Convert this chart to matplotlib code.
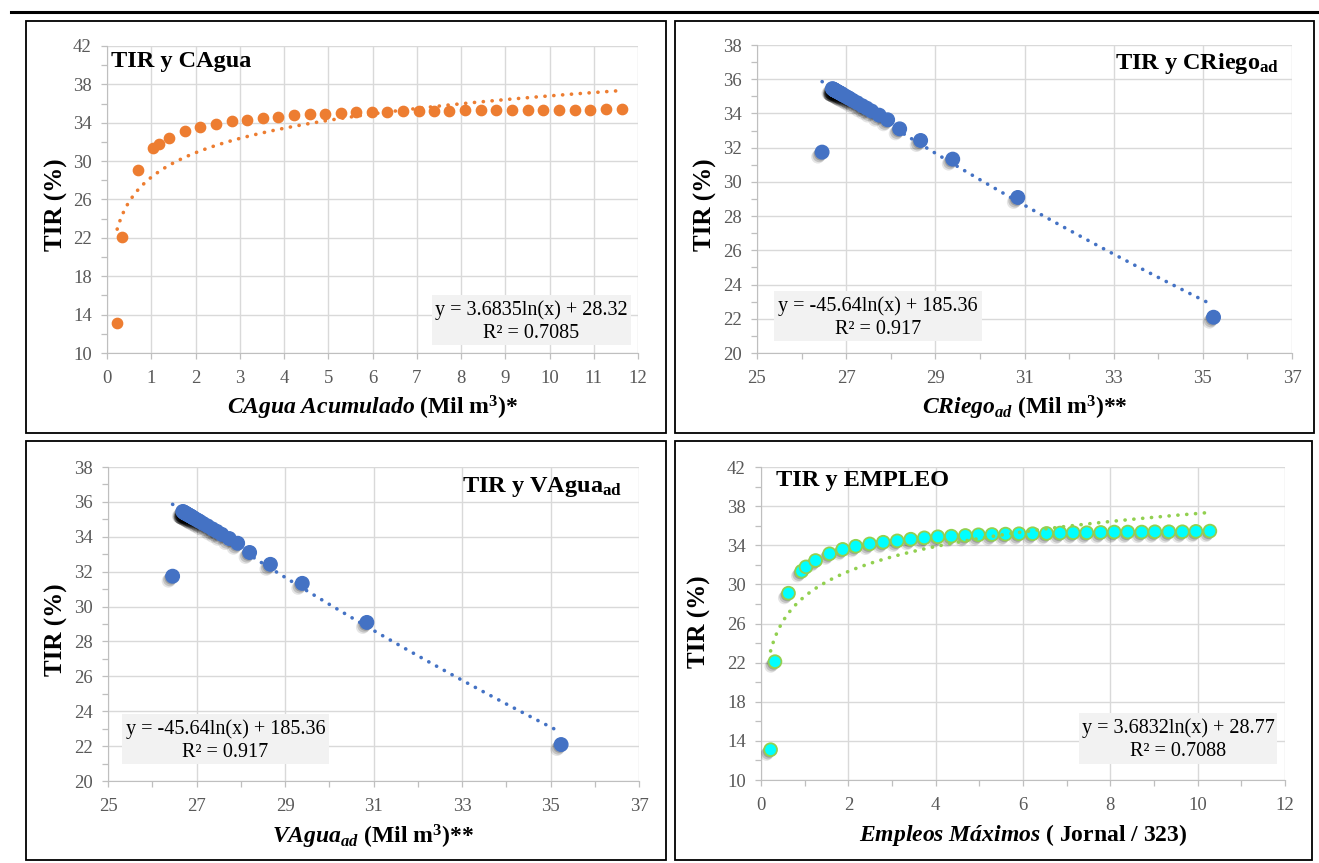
import numpy as np
import matplotlib
matplotlib.use('Agg')
import matplotlib.pyplot as plt
import matplotlib.patheffects as pe
from matplotlib.patches import Rectangle
from matplotlib.lines import Line2D

plt.rcParams['font.family'] = ['Liberation Serif', 'DejaVu Serif']
plt.rcParams['mathtext.fontset'] = 'custom'
plt.rcParams['mathtext.rm'] = 'Liberation Serif'
plt.rcParams['mathtext.it'] = 'Liberation Serif:italic'
plt.rcParams['mathtext.bf'] = 'Liberation Serif:bold'
plt.rcParams['mathtext.bfit'] = 'Liberation Serif:italic:bold'

W, H = 1319, 863

# TIR (%)
tir = [13.1, 22.1, 29.1, 31.34, 31.79, 32.44, 33.13, 33.58, 33.9, 34.14, 34.31, 34.45,
       34.62, 34.76, 34.87, 34.93, 35.0, 35.07, 35.1, 35.14, 35.18, 35.18, 35.21, 35.25,
       35.28, 35.28, 35.31, 35.35, 35.35, 35.35, 35.38, 35.38, 35.38, 35.42, 35.45]
# CAgua acumulado (Mil m3)
cagua_x = [0.23, 0.35, 0.70, 1.04, 1.17, 1.41, 1.76, 2.11, 2.46, 2.82, 3.16, 3.52,
           3.87, 4.22, 4.58, 4.93, 5.28, 5.63, 5.99, 6.33, 6.68, 7.04, 7.39, 7.74,
           8.09, 8.45, 8.80, 9.16, 9.51, 9.86, 10.22, 10.57, 10.92, 11.27, 11.63]
# Empleos maximos (Jornal / 323)
empleo_x = [0.22, 0.32, 0.63, 0.93, 1.03, 1.25, 1.57, 1.87, 2.17, 2.49, 2.80, 3.12,
            3.43, 3.74, 4.05, 4.36, 4.68, 4.98, 5.29, 5.60, 5.91, 6.22, 6.54, 6.85,
            7.15, 7.46, 7.78, 8.09, 8.40, 8.72, 9.02, 9.34, 9.65, 9.96, 10.28]
# CRiego_ad / VAgua_ad (Mil m3), points visible inside 20-38
criego_tir = [22.09, 29.09, 31.33, 31.74, 32.42, 33.1, 33.63, 33.9, 34.14, 34.31, 34.45,
              34.62, 34.76, 34.87, 34.93, 35.0, 35.07, 35.1, 35.14, 35.18, 35.18, 35.21,
              35.25, 35.28, 35.28, 35.31, 35.35, 35.35, 35.35, 35.38, 35.38, 35.38, 35.42, 35.45]
criego_x = [35.24, 30.85, 29.39, 26.46, 28.67, 28.20, 27.93, 27.74, 27.57, 27.46, 27.36,
            27.25, 27.15, 27.08, 27.04, 26.99, 26.94, 26.92, 26.90, 26.87, 26.87, 26.85,
            26.82, 26.80, 26.80, 26.78, 26.75, 26.75, 26.75, 26.73, 26.73, 26.73, 26.71, 26.69]
vagua_tir = criego_tir
vagua_x = criego_x

# log trendlines y = a ln(x) + b as printed on the charts
fit_cagua = (3.6835, 28.32)
fit_criego = (-45.64, 185.36)
fit_vagua = (-45.64, 185.36)
fit_empleo = (3.6832, 28.77)

fig = plt.figure(figsize=(W / 100, H / 100), dpi=100)


def fx(px):
    return px / W


def fy(py):
    return 1 - py / H


def panel(l, t, r, b):
    fig.patches.append(Rectangle((fx(l), fy(b)), (r - l) / W, (b - t) / H, transform=fig.transFigure,
                                 fill=False, edgecolor='black', lw=1.3, zorder=0))


def make_axes(l, t, r, b, xlim, xmaj, ylim, ymaj, ymin):
    ax = fig.add_axes([fx(l), fy(b), (r - l) / W, (b - t) / H])
    ax.set_xlim(xlim)
    ax.set_ylim(ylim)
    ax.set_xticks(np.arange(xlim[0], xlim[1] + 0.1, xmaj))
    ax.set_xticks(np.arange(xlim[0], xlim[1] + 0.1, 1), minor=True)
    ax.set_yticks(np.arange(ylim[0], ylim[1] + 0.1, ymaj))
    ax.set_yticks(np.arange(ylim[0], ylim[1] + 0.1, ymin), minor=True)
    ax.grid(which='major', color='#D9D9D9', lw=1.0)
    ax.set_axisbelow(True)
    for s in ['top', 'right']:
        ax.spines[s].set_visible(False)
    for s in ['left', 'bottom']:
        ax.spines[s].set_color('#BFBFBF')
    ax.tick_params(which='both', direction='out', length=4, width=0.9, color='#BFBFBF',
                   labelsize=13.5, labelcolor='#595959')
    ax.tick_params(axis='x', pad=8)
    ax.tick_params(axis='y', pad=7)
    return ax


def trend(ax, x, fit, color):
    xs = np.linspace(min(x), max(x), 300)
    ax.plot(xs, fit[0] * np.log(xs) + fit[1], color=color, lw=2.6,
            linestyle=(0, (0.05, 2.4)), dash_capstyle='round', zorder=4)


def eq_box(l, t, r, b, fit, r2):
    fig.patches.append(Rectangle((fx(l), fy(b)), (r - l) / W, (b - t) / H, transform=fig.transFigure,
                                 facecolor='#F2F2F2', edgecolor='none', zorder=1))
    cx = (l + r) / 2
    sign = '+' if fit[1] >= 0 else '-'
    fig.text(fx(cx), fy(t + 15), 'y = %sln(x) %s %s' % (fit[0], sign, fit[1]),
             ha='center', va='center', fontsize=14.5, color='black')
    fig.text(fx(cx), fy(t + 38), 'R² = %s' % r2, ha='center', va='center', fontsize=14.5, color='black')


# soft drop shadow (several faint offset copies), then the marker itself
shadow = [pe.SimplePatchShadow(offset=(-1.0, -1.2), shadow_rgbFace='black', alpha=0.18),
          pe.SimplePatchShadow(offset=(-2.0, -2.4), shadow_rgbFace='black', alpha=0.15),
          pe.SimplePatchShadow(offset=(-3.0, -3.4), shadow_rgbFace='black', alpha=0.1),
          pe.Normal()]

# top rule
fig.add_artist(Line2D([fx(11), 1], [fy(12), fy(12)], color='black', lw=2.2))

# panel 1: TIR y CAgua
panel(26, 21, 666, 433)
ax1 = make_axes(107, 46, 638, 353, (0, 12), 1, (10, 42), 4, 2)
ax1.scatter(cagua_x, tir, s=55, color='#ED7D31', zorder=3)
trend(ax1, cagua_x, fit_cagua, '#ED7D31')
eq_box(432, 295, 631, 345, fit_cagua, '0.7085')
fig.text(fx(111), fy(61), 'TIR y CAgua', ha='left', va='center', fontsize=17.5, fontweight='bold')
fig.text(fx(56), fy(205), 'TIR (%)', rotation=90, ha='center', va='center', fontsize=18, fontweight='bold')
fig.text(fx(373), fy(408), r'$\mathbfit{CAgua\ Acumulado}$ (Mil m$^{\mathbf{3}}$)*',
         ha='center', va='center', fontsize=17, fontweight='bold')

# panel 2: TIR y CRiego_ad
panel(675, 21, 1314, 433)
ax2 = make_axes(757, 45, 1292, 353, (25, 37), 2, (20, 38), 2, 1)
ax2.scatter(criego_x, criego_tir, s=95, color='#4472C4', zorder=3, path_effects=shadow)
trend(ax2, criego_x, fit_criego, '#4472C4')
eq_box(774, 291, 982, 341, fit_criego, '0.917')
fig.text(fx(1279), fy(64), r'TIR y CRiego$_{\mathbf{ad}}$', ha='right', va='center', fontsize=17.5, fontweight='bold')
fig.text(fx(705), fy(205), 'TIR (%)', rotation=90, ha='center', va='center', fontsize=18, fontweight='bold')
fig.text(fx(1025), fy(408), r'$\mathbfit{CRiego_{ad}}$ (Mil m$^{\mathbf{3}}$)**',
         ha='center', va='center', fontsize=17, fontweight='bold')

# panel 3: TIR y VAgua_ad
panel(26, 441, 666, 860)
ax3 = make_axes(108, 467, 639, 781, (25, 37), 2, (20, 38), 2, 1)
ax3.scatter(vagua_x, vagua_tir, s=95, color='#4472C4', zorder=3, path_effects=shadow)
trend(ax3, vagua_x, fit_vagua, '#4472C4')
eq_box(122, 714, 329, 764, fit_vagua, '0.917')
fig.text(fx(622), fy(487), r'TIR y VAgua$_{\mathbf{ad}}$', ha='right', va='center', fontsize=17.5, fontweight='bold')
fig.text(fx(56), fy(630), 'TIR (%)', rotation=90, ha='center', va='center', fontsize=18, fontweight='bold')
fig.text(fx(373), fy(837), r'$\mathbfit{VAgua_{ad}}$ (Mil m$^{\mathbf{3}}$)**',
         ha='center', va='center', fontsize=17, fontweight='bold')

# panel 4: TIR y EMPLEO
panel(675, 441, 1312, 860)
ax4 = make_axes(761, 467, 1285, 780, (0, 12), 2, (10, 42), 4, 2)
ax4.scatter(empleo_x, tir, s=85, color='#00FFFF', edgecolors='#92D050', linewidths=1.3,
            zorder=3, path_effects=shadow)
trend(ax4, empleo_x, fit_empleo, '#92D050')
eq_box(1079, 713, 1277, 764, fit_empleo, '0.7088')
fig.text(fx(776), fy(480), 'TIR y EMPLEO', ha='left', va='center', fontsize=17.5, fontweight='bold')
fig.text(fx(699), fy(622), 'TIR (%)', rotation=90, ha='center', va='center', fontsize=18, fontweight='bold')
fig.text(fx(1023), fy(835), r'$\mathbfit{Empleos\ Máximos}$ ( Jornal / 323)',
         ha='center', va='center', fontsize=17, fontweight='bold')

fig.savefig('out.png', dpi=100)
